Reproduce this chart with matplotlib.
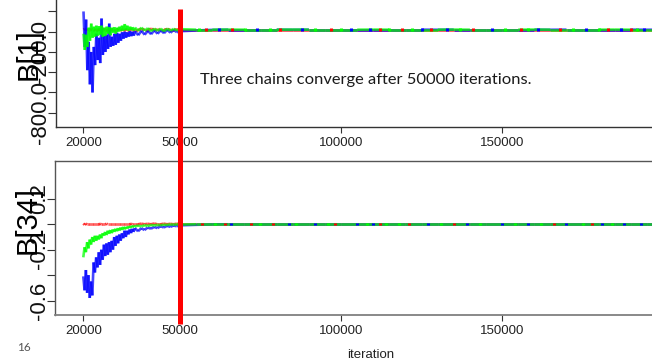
import numpy as np
import matplotlib
matplotlib.use("Agg")
import matplotlib.pyplot as plt
from matplotlib.collections import LineCollection
from matplotlib.lines import Line2D
import matplotlib.transforms as mtransforms

# ---------------- data ----------------
iters_early = list(range(20000, 36001, 400)) + list(range(37000, 50001, 1000))
iters_late = list(range(55000, 200001, 5000))

# B[1]
b1_red_early = [20, 28, 20, 15, 20, 20, 26, 20, 20, 18, 20, 20, 24, 20, 20, 20, 28, 20, 20, 16,
                20, 20, 25, 20, 20, 20, 20, 27, 20, 20, 18, 20, 20, 24, 20, 20, 20, 26, 20, 20, 20,
                20, 25, 20, 20, 28, 20, 18, 20, 20, 25, 20, 20, 22, 20]
b1_blue_early = [200, -150, 120, -380, -100, -520, -200, -600, -150, -330, -20, -280, -60, -310,
                 130, -230, -40, -200, -30, -170, 80, -150, -50, -140, -20, -130, -10, -110, -20,
                 -90, -5, -70, 0, -60, -5, -50, 5, -45, 0, -40, 5,
                 -35, 10, -30, 10, -25, 15, -20, 15, -15, 20, -10, 18, -5, 5]
b1_green_early = [-20, -180, -30, -150, 40, -90, 80, -60, 50, -50, 60, -40, 55, -30, 60, -50, 40,
                  -40, 50, -20, 45, -35, 40, -10, 45, -20, 40, 0, 50, 5, 60, 10, 75, 15, 60, 10,
                  50, 15, 45, 10, 40,
                  10, 40, 10, 35, 5, 30, 10, 30, 5, 30, 10, 28, 12, 25]
b1_red_late = [20] * 30
b1_blue_late = [12, 18, 20, 20, 20, 20, 19, 20, 20, 20, 20, 20, 20, 20, 20, 19, 20, 20, 20, 20,
                20, 20, 19, 20, 20, 20, 20, 20, 19, 20]
b1_green_late = [20, 20, 21, 20, 20, 20, 21, 20, 20, 20, 20, 21, 20, 20, 20, 20, 21, 20, 20, 20,
                 20, 21, 20, 20, 20, 20, 21, 20, 20, 20]
# short excursions seen along the converged traces
b1_speck_red = [58000, 66000, 81000, 97000, 112000, 119000, 128000, 141000, 156000, 168000,
                183000, 190000]
b1_speck_blue = [62000, 74000, 88000, 103000, 109000, 125000, 133000, 147000, 161000, 176000,
                 187000, 194000]
b1_speck_green = [56000, 70000, 78000, 92000, 100000, 115000, 122000, 137000, 151000, 158000,
                  172000, 180000, 192000]
b1_center, b1_speck_half = 20, 14

# B[34]
b34_red_early = [0.006, -0.004, 0.005, 0, 0, 0, 0, 0, 0, 0, 0, 0, 0, 0.004, 0, 0, 0, 0, 0.004, 0,
                 0, 0, 0, 0, 0, 0, 0, 0, 0, 0, 0, 0, 0, 0, 0, 0, 0, 0.005, 0, 0, 0,
                 0, 0.005, 0, 0.004, 0, 0.006, 0, 0, 0.005, 0, 0.004, 0, 0.005, 0]
b34_blue_early = [-0.41, -0.52, -0.36, -0.54, -0.40, -0.58, -0.45, -0.56, -0.30, -0.38, -0.26,
                  -0.34, -0.22, -0.32, -0.20, -0.28, -0.16, -0.25, -0.15, -0.24, -0.14, -0.22,
                  -0.13, -0.20, -0.10, -0.17, -0.09, -0.15, -0.08, -0.13, -0.07, -0.11, -0.05,
                  -0.10, -0.05, -0.08, -0.04, -0.07, -0.035, -0.06, -0.03,
                  -0.055, -0.03, -0.045, -0.025, -0.035, -0.02, -0.03, -0.015, -0.025, -0.012,
                  -0.02, -0.01, -0.015, -0.008]
b34_green_early = [-0.26, -0.18, -0.22, -0.14, -0.19, -0.12, -0.16, -0.10, -0.14, -0.09, -0.13,
                   -0.09, -0.12, -0.08, -0.11, -0.07, -0.09, -0.06, -0.085, -0.05, -0.075, -0.045,
                   -0.07, -0.04, -0.06, -0.035, -0.055, -0.03, -0.05, -0.025, -0.045, -0.02,
                   -0.04, -0.02, -0.035, -0.015, -0.03, -0.012, -0.025, -0.01, -0.02,
                   -0.008, -0.018, -0.006, -0.014, -0.005, -0.01, -0.004, -0.008, -0.003, -0.006,
                   0.0, -0.004, 0.0, -0.002]
b34_red_late = [0.0] * 30
b34_blue_late = [-0.004, -0.001, 0, 0, 0, 0, 0, 0, 0, 0, 0, 0, 0, 0, 0, 0, 0, 0, 0, 0,
                 0, 0, 0, 0, 0, 0, 0, 0, 0, 0]
b34_green_late = [0.0] * 30
b34_speck_red = [57000, 64000, 72000, 79000, 98000, 112000, 121000, 135000, 166000, 178000]
b34_speck_blue = [66000, 84000, 92000, 105000, 110000, 127000, 139000, 150000, 158000, 170000,
                  181000, 188000, 193000]
b34_speck_green = [61000, 75000, 86000, 96000, 108000, 114000, 118000, 131000, 143000, 154000,
                   162000, 175000, 184000]
b34_center, b34_speck_half = 0.0, 0.007

x_ticks = [20000, 50000, 100000, 150000]
x_ticklabels = ["20000", "50000", "100000", "150000"]
b1_yticks = [-800, -600, -400, -200, 0, 200]
b1_yticklabels = ["-800.0", "", "", "-200.0", "", ""]
b34_yticks = [-0.6, -0.4, -0.2, 0.0, 0.2]
b34_yticklabels = ["-0.6", "", "-0.2", "", "0.2"]
converge_iter = 50000
annotation = "Three chains converge after 50000 iterations."
chain_colors = ["#FF0000", "#0000FF", "#00FF00"]

# ---------------- figure ----------------
W, H = 652, 362
fig = plt.figure(figsize=(W / 100, H / 100), dpi=100)

def px_axes(left, top, right, bottom):
    return fig.add_axes([left / W, 1 - bottom / H, (right - left) / W, (bottom - top) / H])

ax1 = px_axes(56, 0, 652, 127)
ax2 = px_axes(54.5, 161, 652, 315.3)

def draw_chain(ax, xs, ys, color):
    pts = np.column_stack([xs, ys]).astype(float)
    segs = np.stack([pts[:-1], pts[1:]], axis=1)
    lc = LineCollection(segs, colors=color, linewidths=1.9, alpha=0.72, capstyle="butt")
    ax.add_collection(lc)

all_iters = iters_early + iters_late
panels = [
    (ax1, [b1_red_early + b1_red_late, b1_blue_early + b1_blue_late, b1_green_early + b1_green_late],
     [b1_speck_red, b1_speck_blue, b1_speck_green], b1_center, b1_speck_half),
    (ax2, [b34_red_early + b34_red_late, b34_blue_early + b34_blue_late, b34_green_early + b34_green_late],
     [b34_speck_red, b34_speck_blue, b34_speck_green], b34_center, b34_speck_half),
]
for ax, series, specks, center, half in panels:
    for ys, c in zip(series, chain_colors):
        draw_chain(ax, all_iters, ys, c)
    for sp, c in zip(specks, chain_colors):
        ax.vlines(sp, center - half, center + half, colors=c, lw=2.2)

ax1.set_xlim(11460, 196550)
ax1.set_ylim(-941, 313)
ax2.set_xlim(11060, 196550)
ax2.set_ylim(-0.7165, 0.4984)

tick_font = dict(family="Liberation Sans", size=9.5, color="#222222")
ylab_font = dict(family="Liberation Sans", size=16, color="#111111")

for ax, yt, ytl, ylabel in [(ax1, b1_yticks, b1_yticklabels, "B[1]"),
                            (ax2, b34_yticks, b34_yticklabels, "B[34]")]:
    ax.set_xticks(x_ticks)
    ax.set_xticklabels(x_ticklabels, fontdict=tick_font)
    ax.set_yticks(yt)
    ax.set_yticklabels(ytl, rotation=90, va="center", fontdict=ylab_font)
    ax.tick_params(axis="x", direction="out", length=4, width=0.8, color="#333333", pad=3)
    ax.tick_params(axis="y", direction="out", length=5.5, width=0.8, color="#333333", pad=-2)
    ax.spines["right"].set_visible(False)
    for s in ["left", "bottom", "top"]:
        ax.spines[s].set_linewidth(1.0)
    ax.set_ylabel(ylabel, family="Liberation Sans", size=21)

ax1.spines["top"].set_visible(False)
ax1.spines["left"].set_color("#333333")
ax1.spines["bottom"].set_color("#333333")
for s in ["left", "bottom", "top"]:
    ax2.spines[s].set_color("#555555")
ax2.spines["bottom"].set_color("#808080")
ax2.spines["bottom"].set_linewidth(1.3)

ax1.yaxis.set_label_coords(-13 / 596, 0.57)
ax2.yaxis.set_label_coords(-13 / 597, 0.62)

# red vertical convergence marker spanning both panels
trans = mtransforms.blended_transform_factory(ax1.transData, fig.transFigure)
fig.add_artist(Line2D([converge_iter, converge_iter], [1 - 9 / H, 1 - 324 / H],
                      transform=trans, color="#FF0000", lw=3.6, solid_capstyle="butt"))

fig.text(200 / W, 1 - 80 / H, annotation, family="Lato", size=11.85, color="#1a1a1a",
         ha="left", va="center")
fig.text(371 / W, 1 - 355 / H, "iteration", family="Liberation Sans", size=9.5,
         color="#222222", ha="center", va="center")
fig.text(24 / W, 1 - 347.5 / H, "16", family="Lato", size=8.5, color="#555555",
         ha="center", va="center")

fig.savefig("out.png", dpi=100)
